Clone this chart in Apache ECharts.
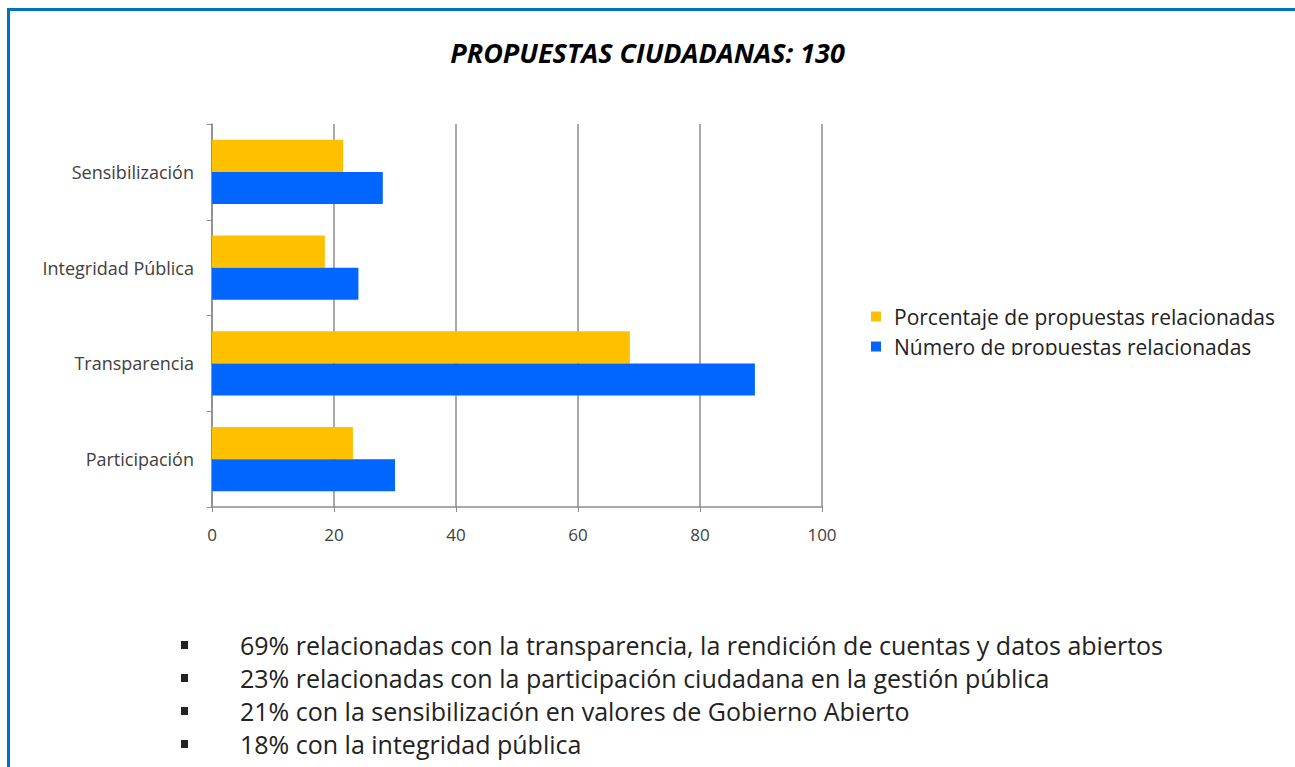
<!DOCTYPE html>
<html>
<head>
<meta charset="utf-8">
<script src="https://cdn.jsdelivr.net/npm/echarts@6/dist/echarts.min.js"></script>
<style>
  html, body { margin: 0; padding: 0; background: #fff; }
  #chart { width: 1295px; height: 767px; }
</style>
</head>
<body>
<div id="chart"></div>
<script>
// data
var categories = ['Participación', 'Transparencia', 'Integridad Pública', 'Sensibilización'];
var pctValues = [23.1, 68.5, 18.5, 21.5];   // Porcentaje de propuestas relacionadas
var numValues = [30, 89, 24, 28];           // Número de propuestas relacionadas
var seriesNames = ['Porcentaje de propuestas relacionadas', 'Número de propuestas relacionadas'];
var bullets = [
  '69% relacionadas con la transparencia, la rendición de cuentas y datos abiertos',
  '23% relacionadas con la participación ciudadana en la gestión pública',
  '21% con la sensibilización en valores de Gobierno Abierto',
  '18% con la integridad pública'
];

var myChart = echarts.init(document.getElementById('chart'), null, { renderer: 'svg' });

// bullet list below the chart
var bulletEls = [];
bullets.forEach(function (t, i) {
  var y = 645 + i * 33;
  bulletEls.push({
    type: 'rect', shape: { x: 181, y: y - 4, width: 7, height: 8 },
    style: { fill: '#222' }
  });
  bulletEls.push({
    type: 'text', x: 240, y: y,
    style: { text: t, font: '25px "Open Sans", sans-serif', fill: '#222', textVerticalAlign: 'middle' }
  });
});

var option = {
  animation: false,
  title: {
    text: 'PROPUESTAS CIUDADANAS: 130',
    left: 'center',
    top: 34,
    textStyle: { fontFamily: 'Open Sans', fontStyle: 'italic', fontWeight: 'bold', fontSize: 27, color: '#000' }
  },
  legend: {
    orient: 'vertical',
    left: 866,
    top: 301,
    itemWidth: 10,
    itemHeight: 10,
    itemGap: 9,
    icon: 'rect',
    textStyle: { fontFamily: 'Open Sans', fontSize: 21, color: '#222', padding: [0, 0, 0, 8] },
    data: seriesNames
  },
  grid: { left: 212, right: 473, top: 124, bottom: 260 },
  xAxis: {
    type: 'value',
    min: 0, max: 100, interval: 20,
    axisLine: { show: true, lineStyle: { color: '#8c8c8c', width: 1.5 } },
    axisTick: { show: true, length: 5, lineStyle: { color: '#8c8c8c' } },
    axisLabel: { margin: 19, fontFamily: 'Open Sans', fontSize: 17, color: '#404040' },
    splitLine: { show: true, lineStyle: { color: '#8c8c8c', width: 1.5 } }
  },
  yAxis: {
    type: 'category',
    data: categories,
    axisLine: { show: true, lineStyle: { color: '#8c8c8c', width: 1.5 } },
    axisTick: { show: true, length: 5, lineStyle: { color: '#8c8c8c' } },
    axisLabel: { margin: 18, fontFamily: 'Open Sans', fontSize: 18, color: '#404040' }
  },
  series: [
    {
      name: seriesNames[0], type: 'bar', data: pctValues,
      itemStyle: { color: '#ffc000' },
      barGap: '0%', barCategoryGap: '33%'
    },
    {
      name: seriesNames[1], type: 'bar', data: numValues,
      itemStyle: { color: '#0066ff' },
      barGap: '0%', barCategoryGap: '33%'
    }
  ],
  graphic: [
    // frame lines of the slide
    { type: 'rect', shape: { x: 7, y: 8, width: 1288, height: 3 }, style: { fill: '#0070c0' } },
    { type: 'rect', shape: { x: 7, y: 8, width: 3, height: 759 }, style: { fill: '#0070c0' } },
    // the second legend row is cut off in the original
    { type: 'rect', shape: { x: 860, y: 355, width: 430, height: 20 }, style: { fill: '#fff' }, z: 100 },
    { type: 'group', children: bulletEls }
  ]
};
myChart.setOption(option);
</script>
</body>
</html>
